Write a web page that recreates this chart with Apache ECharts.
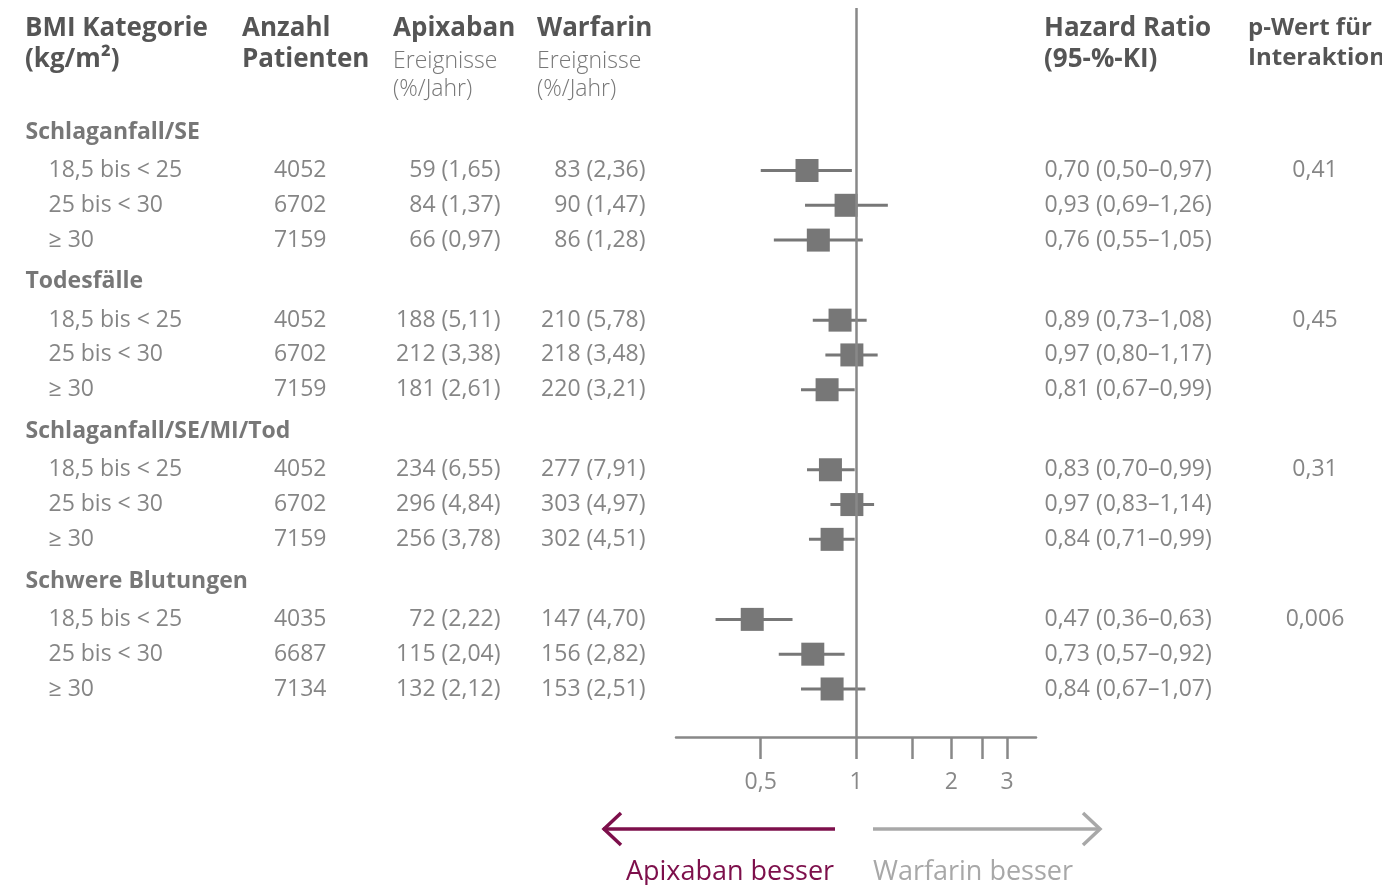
<!DOCTYPE html>
<html>
<head>
<meta charset="utf-8">
<script src="https://cdn.jsdelivr.net/npm/echarts@6/dist/echarts.min.js"></script>
<style>
    html, body { margin: 0; padding: 0; background: #fff; }
    #chart { width: 1382px; height: 885px; }
</style>
</head>
<body>
<div id="chart"></div>
<script>
    // Daten
    const groups = ['Schlaganfall/SE', 'Todesfälle', 'Schlaganfall/SE/MI/Tod', 'Schwere Blutungen'];
    const bmiCats = ['18,5 bis < 25', '25 bis < 30', '≥ 30'];
    const patients = [4052, 6702, 7159, 4052, 6702, 7159, 4052, 6702, 7159, 4035, 6687, 7134];
    const apixN = [59, 84, 66, 188, 212, 181, 234, 296, 256, 72, 115, 132];
    const apixRate = [1.65, 1.37, 0.97, 5.11, 3.38, 2.61, 6.55, 4.84, 3.78, 2.22, 2.04, 2.12];
    const warfN = [83, 90, 86, 210, 218, 220, 277, 303, 302, 147, 156, 153];
    const warfRate = [2.36, 1.47, 1.28, 5.78, 3.48, 3.21, 7.91, 4.97, 4.51, 4.70, 2.82, 2.51];
    const hr = [0.70, 0.93, 0.76, 0.89, 0.97, 0.81, 0.83, 0.97, 0.84, 0.47, 0.73, 0.84];
    const ciLow = [0.50, 0.69, 0.55, 0.73, 0.80, 0.67, 0.70, 0.83, 0.71, 0.36, 0.57, 0.67];
    const ciHigh = [0.97, 1.26, 1.05, 1.08, 1.17, 0.99, 0.99, 1.14, 0.99, 0.63, 0.92, 1.07];
    const pInteraction = ['0,41', '0,45', '0,31', '0,006'];
    const xTicks = [0.5, 1, 1.5, 2, 2.5, 3];
    const xLabels = [0.5, 1, 2, 3];

    const FONT = '"Open Sans", "Noto Sans", sans-serif';
    const TEXT = '#666';
    const HEAD = '#555';
    const MARK = '#777';
    const AXIS = '#888';

    const fmt = v => v.toFixed(2).replace('.', ',');
    // y in Zeilen-Einheiten: Gruppe g, Zeile i
    const groupY = g => g * 4.3;
    const rowY = k => groupY(Math.floor(k / 3)) + 1.1 + (k % 3);

    // Text-Spalten als Punkte im zweiten Grid
    function textSeries(points, pos, bold) {
        return {
            type: 'scatter',
            xAxisIndex: 1,
            yAxisIndex: 1,
            symbolSize: 1,
            silent: true,
            itemStyle: { color: 'rgba(0,0,0,0)' },
            data: points,
            label: {
                show: true,
                position: pos,
                distance: 0,
                formatter: p => p.value[2],
                color: bold ? HEAD : TEXT,
                fontWeight: bold ? 'bold' : 'normal',
                fontSize: 23,
                fontFamily: FONT
            }
        };
    }

    const groupPts = groups.map((g, i) => [25, groupY(i), g]);
    const catPts = hr.map((v, k) => [48, rowY(k), bmiCats[k % 3]]);
    const patPts = patients.map((v, k) => [327, rowY(k), String(v)]);
    const apixPts = apixN.map((v, k) => [501, rowY(k), v + ' (' + fmt(apixRate[k]) + ')']);
    const warfPts = warfN.map((v, k) => [646, rowY(k), v + ' (' + fmt(warfRate[k]) + ')']);
    const hrPts = hr.map((v, k) => [1044, rowY(k), fmt(v) + ' (' + fmt(ciLow[k]) + '–' + fmt(ciHigh[k]) + ')']);
    const pPts = pInteraction.map((v, i) => [1315, rowY(i * 3), v]);

    const ciData = hr.map((v, k) => [ciLow[k], ciHigh[k], rowY(k)]);
    const hrData = hr.map((v, k) => [v, rowY(k)]);

    function headText(x, y, text, size, weight, color) {
        return {
            type: 'text', x: x, y: y, silent: true,
            style: {
                text: text, fill: color || HEAD,
                font: (weight || 'bold') + ' ' + (size || 26) + 'px ' + FONT,
                verticalAlign: 'middle', align: 'left'
            }
        };
    }

    const APIX = '#7d0f4b';
    const WARF = '#a8a8a8';

    let option = {
        animation: false,
        grid: [
            { left: 676, width: 360, top: 8, height: 729 },
            { left: 0, width: 1382, top: 8, height: 729 }
        ],
        xAxis: [
            {
                type: 'log', logBase: 2, min: 0.27, max: 3.7,
                gridIndex: 0,
                splitLine: { show: false },
                axisLine: { show: true, onZero: false, lineStyle: { color: AXIS, width: 2.5 } },
                axisTick: {
                    show: true, length: 22, customValues: xTicks,
                    lineStyle: { color: AXIS, width: 2.5 }
                },
                axisLabel: {
                    customValues: xLabels, margin: 34,
                    color: AXIS, fontSize: 23, fontFamily: FONT,
                    formatter: v => String(v).replace('.', ',')
                }
            },
            { type: 'value', gridIndex: 1, min: 0, max: 1382, show: false }
        ],
        yAxis: [
            { type: 'value', gridIndex: 0, min: -3.57, max: 17.38, inverse: true, show: false },
            { type: 'value', gridIndex: 1, min: -3.57, max: 17.38, inverse: true, show: false }
        ],
        series: [
            {
                type: 'custom',
                silent: true,
                xAxisIndex: 0, yAxisIndex: 0,
                data: ciData,
                encode: { x: [0, 1], y: 2 },
                renderItem: function (params, api) {
                    const a = api.coord([api.value(0), api.value(2)]);
                    const b = api.coord([api.value(1), api.value(2)]);
                    return {
                        type: 'line',
                        shape: { x1: a[0], y1: a[1], x2: b[0], y2: b[1] },
                        style: { stroke: MARK, lineWidth: 3 }
                    };
                },
                markLine: {
                    silent: true,
                    symbol: 'none',
                    label: { show: false },
                    lineStyle: { color: AXIS, width: 2.5, type: 'solid' },
                    data: [{ xAxis: 1 }]
                }
            },
            {
                type: 'scatter',
                silent: true,
                xAxisIndex: 0, yAxisIndex: 0,
                symbol: 'rect',
                symbolSize: 23,
                itemStyle: { color: MARK, opacity: 1 },
                data: hrData,
                z: 3
            },
            textSeries(groupPts, 'right', true),
            textSeries(catPts, 'right'),
            textSeries(patPts, 'left'),
            textSeries(apixPts, 'left'),
            textSeries(warfPts, 'left'),
            textSeries(hrPts, 'right'),
            textSeries(pPts, 'inside')
        ],
        graphic: [
            headText(25, 29, 'BMI Kategorie'),
            headText(25, 60, '(kg/m²)'),
            headText(242, 29, 'Anzahl'),
            headText(242, 60, 'Patienten'),
            headText(393, 29, 'Apixaban'),
            headText(393, 61, 'Ereignisse', 23, '300', '#777'),
            headText(393, 89, '(%/Jahr)', 23, '300', '#777'),
            headText(537, 29, 'Warfarin'),
            headText(537, 61, 'Ereignisse', 23, '300', '#777'),
            headText(537, 89, '(%/Jahr)', 23, '300', '#777'),
            headText(1044, 29, 'Hazard Ratio'),
            headText(1044, 60, '(95-%-KI)'),
            headText(1248, 28, 'p-Wert für', 24),
            headText(1248, 58, 'Interaktion', 24),
            {
                type: 'polyline', silent: true,
                shape: { points: [[835, 829], [603, 829]] },
                style: { stroke: APIX, lineWidth: 3.5, fill: null }
            },
            {
                type: 'polyline', silent: true,
                shape: { points: [[621, 813], [604, 829], [621, 845]] },
                style: { stroke: APIX, lineWidth: 3.5, fill: null }
            },
            {
                type: 'polyline', silent: true,
                shape: { points: [[873, 829], [1100, 829]] },
                style: { stroke: WARF, lineWidth: 3.5, fill: null }
            },
            {
                type: 'polyline', silent: true,
                shape: { points: [[1083, 813], [1100, 829], [1083, 845]] },
                style: { stroke: WARF, lineWidth: 3.5, fill: null }
            },
            {
                type: 'text', x: 730, y: 872, silent: true,
                style: { text: 'Apixaban besser', fill: APIX, font: '27px ' + FONT, align: 'center', verticalAlign: 'middle' }
            },
            {
                type: 'text', x: 973, y: 872, silent: true,
                style: { text: 'Warfarin besser', fill: WARF, font: '27px ' + FONT, align: 'center', verticalAlign: 'middle' }
            }
        ]
    };

    let dom = echarts.init(document.getElementById('chart'));
    dom.setOption(option);
</script>
</body>
</html>
